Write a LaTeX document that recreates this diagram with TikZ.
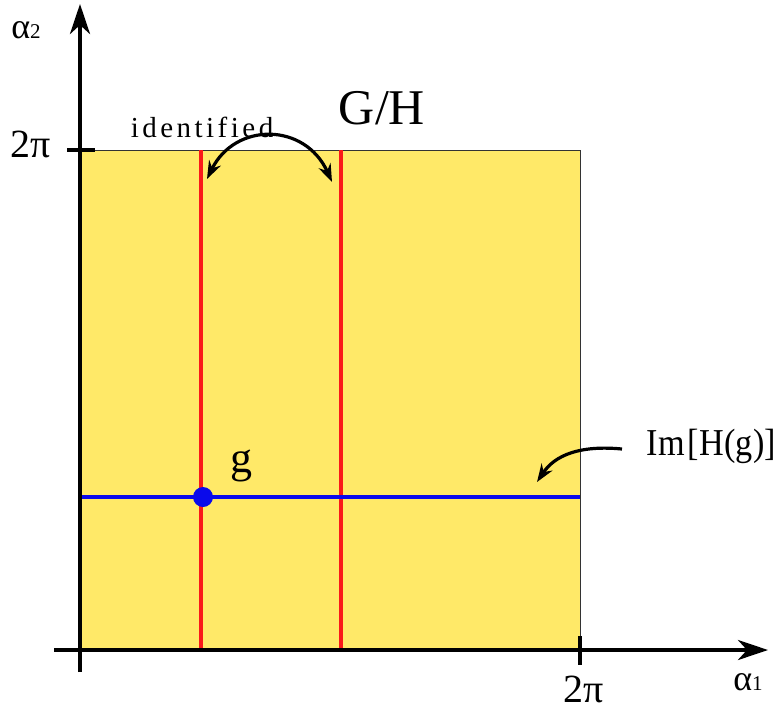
\documentclass[tikz,border=0pt]{standalone}
\usepackage{fontspec}
\setmainfont{Liberation Serif}
\usetikzlibrary{arrows.meta}
\definecolor{sqfill}{RGB}{255,233,104}
\definecolor{redline}{RGB}{250,25,25}
\definecolor{blueline}{RGB}{10,10,235}
\begin{document}
\begin{tikzpicture}[x=1pt,y=-1pt,
  axis/.style={line width=4pt,-{Stealth[length=30pt,width=20pt,inset=9pt]}},
  tick/.style={line width=4pt},
  lbl/.style={inner sep=0pt,anchor=base,font=\fontsize{40}{42}\selectfont},
  curv/.style={line width=3.2pt,{Stealth[length=18pt,width=13pt,inset=6pt]}-{Stealth[length=18pt,width=13pt,inset=6pt]}},
  curvone/.style={line width=3.2pt,-{Stealth[length=18pt,width=13pt,inset=6pt]}}]
\useasboundingbox (0,0) rectangle (778,710);
% square
\fill[sqfill,draw=black!80,line width=1pt] (80,150) rectangle (580,650);
% red lines
\coordinate (r1t) at (201,150); \coordinate (r1b) at (201,650);
\coordinate (r2t) at (341,150); \coordinate (r2b) at (341,650);
\draw[redline,line width=4pt] (r1t) -- (r1b);
\draw[redline,line width=4pt] (r2t) -- (r2b);
% blue line
\coordinate (bl) at (80,497); \coordinate (br) at (580,497);
\draw[blueline,line width=4.5pt] (bl) -- (br);
\node[circle,fill=blueline,inner sep=0pt,minimum size=20pt] (gdot) at (203,497) {};
% axes
\coordinate (yb) at (80,672); \coordinate (yt) at (80,4);
\coordinate (xl) at (54,650); \coordinate (xr) at (768,650);
\draw[axis] (yb) -- (yt);
\draw[axis] (xl) -- (xr);
\coordinate (t1a) at (67,150); \coordinate (t1b) at (95,150);
\draw[tick] (t1a) -- (t1b);
\coordinate (t2a) at (580,636); \coordinate (t2b) at (580,665);
\draw[tick] (t2a) -- (t2b);
% labels
\node[lbl,font=\fontsize{36}{40}\selectfont] (a2) at (26,38) {α\raisebox{-0.02em}{\fontsize{21}{24}\selectfont 2}};
\node[lbl] (tp1) at (31,157) {2π};
\node[lbl,text depth=0pt] (tp2) at (584,702) {2π};
\node[lbl,font=\fontsize{36}{40}\selectfont] (a1) at (748,690) {α\raisebox{-0.02em}{\fontsize{21}{24}\selectfont 1}};
\node[lbl,font=\fontsize{50}{54}\selectfont] (gh) at (382,124) {G/H};
\node[lbl,font=\fontsize{29}{30}\selectfont\addfontfeature{LetterSpace=12}] (idf) at (202,137) {identified};
\node[lbl,font=\fontsize{44}{46}\selectfont] (g) at (241,472) {g};
\node[lbl,anchor=base east,font=\fontsize{38}{40}\selectfont] (im) at (776,455) {\scalebox{0.9}[1]{Im\kern3pt[\kern1pt H(g)]}};
% curved arrows
\coordinate (ca) at (207,179); \coordinate (cb) at (332,182);
\draw[curv] (ca) .. controls (235,122) and (305,122) .. (cb);
\coordinate (ia) at (622,449); \coordinate (ib) at (537,482);
\draw[curvone] (ia) .. controls (580,445) and (555,455) .. (ib);
\end{tikzpicture}
\end{document}
